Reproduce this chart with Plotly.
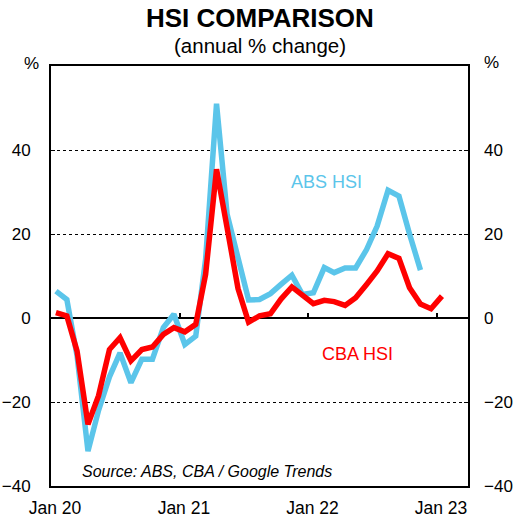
import pandas as pd
import plotly.graph_objects as go

# Monthly data, Jan 2020 onwards (annual % change)
start_month = "2020-01-01"
cba_hsi = [1.3, 0.5, -7.9, -25.3, -18.5, -7.5, -4.7, -10.2, -7.5, -6.9,
           -3.9, -2.3, -3.3, -1.5, 10.4, 35.4, 21.5, 7.0, -1.0, 0.5,
           1.0, 4.5, 7.4, 5.6, 3.4, 4.2, 3.9, 3.0, 4.8, 8.0,
           11.2, 15.3, 14.2, 7.2, 3.3, 2.2, 5.2]
abs_hsi = [6.4, 4.4, -9.0, -31.7, -22.0, -14.0, -8.3, -15.4, -9.8, -9.8,
           -2.3, 0.9, -6.3, -4.3, 14.0, 51.0, 24.7, 14.6, 4.3, 4.4,
           5.8, 8.0, 10.2, 5.6, 6.0, 12.0, 10.8, 11.9, 11.9, 16.3,
           21.9, 30.4, 29.0, 20.0, 11.4]
x_tick_vals = ["2020-01-01", "2021-01-01", "2022-01-01", "2023-01-01"]
x_tick_text = ["Jan 20", "Jan 21", "Jan 22", "Jan 23"]
y_tick_vals = [-40, -20, 0, 20, 40]

months_cba = pd.date_range(start_month, periods=len(cba_hsi), freq="MS") + pd.Timedelta(days=14)
months_abs = pd.date_range(start_month, periods=len(abs_hsi), freq="MS") + pd.Timedelta(days=14)

FONT = "Liberation Sans, Arial, sans-serif"
BLUE = "#5BC5EA"
RED = "#FF0000"

fig = go.Figure()
fig.add_trace(go.Scatter(x=months_abs, y=abs_hsi, mode="lines", name="ABS HSI",
                         line=dict(color=BLUE, width=5.5), xaxis="x", yaxis="y"))
fig.add_trace(go.Scatter(x=months_cba, y=cba_hsi, mode="lines", name="CBA HSI",
                         line=dict(color=RED, width=5.5), xaxis="x", yaxis="y"))
# invisible traces to activate the secondary axes
fig.add_trace(go.Scatter(x=months_cba[:1], y=cba_hsi[:1], mode="lines", showlegend=False,
                         line=dict(width=0), hoverinfo="skip", xaxis="x", yaxis="y2"))
fig.add_trace(go.Scatter(x=months_cba[:1], y=cba_hsi[:1], mode="lines", showlegend=False,
                         line=dict(width=0), hoverinfo="skip", xaxis="x2", yaxis="y"))

xrange = ["2020-01-01", "2023-03-30"]
yrange = [-40, 60]

fig.update_layout(
    width=514, height=519,
    margin=dict(l=51, r=46, t=66, b=33, autoexpand=False),
    paper_bgcolor="white", plot_bgcolor="white",
    showlegend=False,
    font=dict(family=FONT, size=17, color="black"),
    xaxis=dict(range=xrange, type="date", tickvals=x_tick_vals, ticktext=x_tick_text,
               ticks="", showgrid=False, zeroline=False, automargin=False,
               showline=True, mirror=True, linecolor="black", linewidth=2,
               tickfont=dict(size=17.5), ticklabelshift=4, ticklabelstandoff=5),
    xaxis2=dict(range=xrange, type="date", overlaying="x", anchor="free",
                position=(0 - yrange[0]) / (yrange[1] - yrange[0]),
                tickvals=x_tick_vals, ticks="inside", ticklen=5, tickwidth=1.5,
                tickcolor="black", showticklabels=False, showgrid=False,
                zeroline=False, showline=False, automargin=False),
    yaxis=dict(range=yrange, tickvals=y_tick_vals, ticks="inside", ticklen=4,
               tickcolor="black", showgrid=True, gridcolor="black", griddash="dot",
               gridwidth=1, zeroline=True, zerolinecolor="black", zerolinewidth=2,
               showline=True, mirror=True, linecolor="black", linewidth=2,
               tickfont=dict(size=17), ticklabelstandoff=15, automargin=False),
    yaxis2=dict(range=yrange, tickvals=y_tick_vals, overlaying="y", side="right",
                ticks="inside", ticklen=4, tickcolor="black", showgrid=False,
                zeroline=False, showline=False, tickfont=dict(size=17),
                ticklabelstandoff=15, automargin=False),
)

PH = 420.0  # plot height in px
PW = 417.0  # plot width in px
annotations = [
    dict(text="<b>HSI COMPARISON</b>", x=0.5, y=(486 - 18) / PH, xref="paper", yref="paper",
         xanchor="center", yanchor="middle", showarrow=False, font=dict(size=26)),
    dict(text="(annual % change)", x=0.5, y=(486 - 46) / PH, xref="paper", yref="paper",
         xanchor="center", yanchor="middle", showarrow=False, font=dict(size=20.5)),
    dict(text="%", x=(31 - 51) / PW, y=(486 - 63) / PH, xref="paper", yref="paper",
         xanchor="center", yanchor="middle", showarrow=False, font=dict(size=17)),
    dict(text="%", x=(491 - 51) / PW, y=(486 - 62) / PH, xref="paper", yref="paper",
         xanchor="center", yanchor="middle", showarrow=False, font=dict(size=17)),
    dict(text="ABS HSI", x="2022-02-22", y=32.4, xref="x", yref="y",
         xanchor="center", yanchor="middle", showarrow=False, font=dict(size=18, color=BLUE)),
    dict(text="CBA HSI", x="2022-05-21", y=-8.6, xref="x", yref="y",
         xanchor="center", yanchor="middle", showarrow=False, font=dict(size=18, color=RED)),
    dict(text="<i>Source: ABS, CBA / Google Trends</i>", x=(80 - 51) / PW, y=(486 - 471) / PH,
         xref="paper", yref="paper", xanchor="left", yanchor="middle", showarrow=False,
         font=dict(size=16)),
]
fig.update_layout(annotations=annotations)

fig.write_html("out.html", config={"displayModeBar": False},
               post_script="document.body.style.margin='0';")
